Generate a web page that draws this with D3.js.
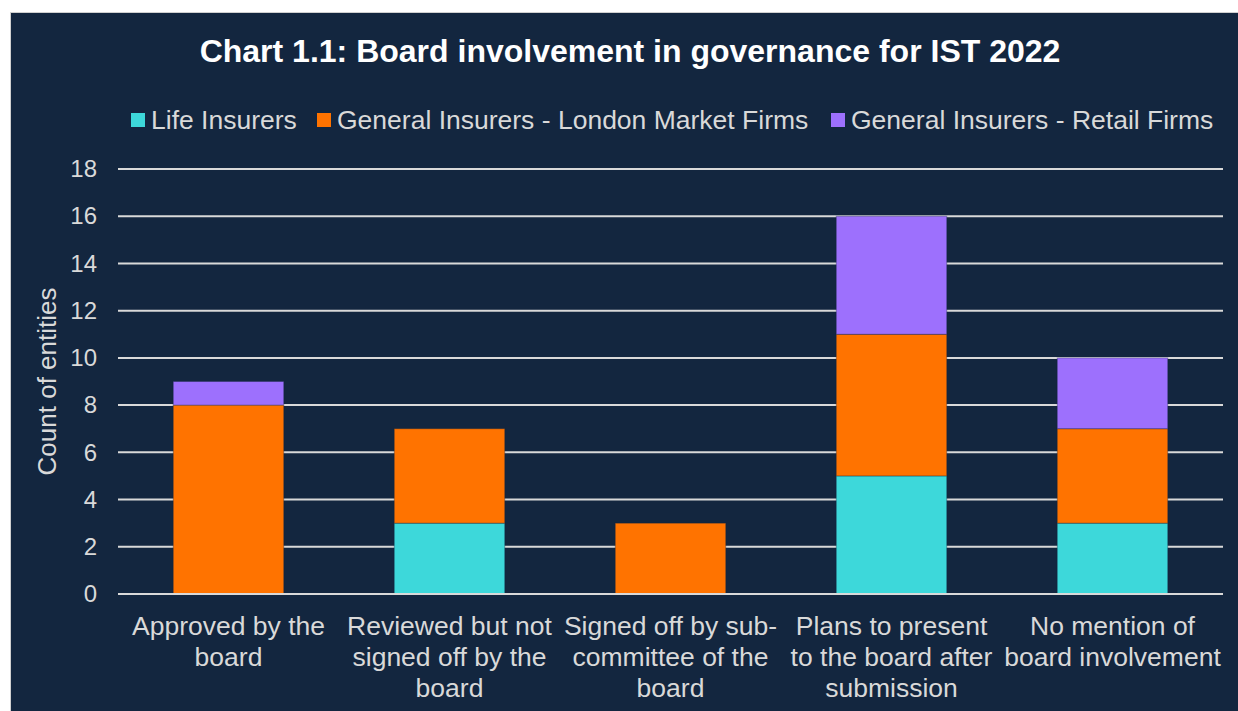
<!DOCTYPE html>
<html>
<head>
<meta charset="utf-8">
<script src="https://cdn.jsdelivr.net/npm/d3@7"></script>
<style>
  body { margin: 0; background: #fff; }
  svg { display: block; font-family: "Liberation Sans", Arial, sans-serif; }
</style>
</head>
<body>
<div id="chart"></div>
<script>
var svgWidth = 1238;
var svgHeight = 711;

// data
var categories = [
    ["Approved by the", "board"],
    ["Reviewed but not", "signed off by the", "board"],
    ["Signed off by sub-", "committee of the", "board"],
    ["Plans to present", "to the board after", "submission"],
    ["No mention of", "board involvement"]
];
var seriesNames = ["Life Insurers", "General Insurers - London Market Firms", "General Insurers - Retail Firms"];
var lifeInsurers = [0, 3, 0, 5, 3];
var londonMarket = [8, 4, 3, 6, 4];
var retailFirms = [1, 0, 0, 5, 3];
var yTicks = [0, 2, 4, 6, 8, 10, 12, 14, 16, 18];

var colorList = ['#3dd8da', '#ff7300', '#9d70fd'];
var bg = '#13263f';
var textColor = '#d9d9d9';

var margin = ({top: 169, right: 15, bottom: 117, left: 118});

var svg = d3.select("#chart")
    .append("svg")
    .attr("width", svgWidth)
    .attr("height", svgHeight);

// panel background with border
svg.append('rect')
    .attr('x', 10.5)
    .attr('y', 12.5)
    .attr('width', svgWidth)
    .attr('height', svgHeight)
    .attr('fill', bg)
    .attr('stroke', '#d0d0d0')
    .attr('stroke-width', 1);

var tableData = categories.map(function(c, i) {
    return {cat: i, life: lifeInsurers[i], london: londonMarket[i], retail: retailFirms[i]};
});
var series = d3.stack().keys(['life', 'london', 'retail'])(tableData);

var xScale = d3.scaleBand()
    .domain(categories.map((d, i) => i))
    .range([margin.left, svgWidth - margin.right])
    .paddingInner(0.5)
    .paddingOuter(0.25);

var yScale = d3.scaleLinear()
    .domain([0, 18])
    .range([svgHeight - margin.bottom, margin.top]);

// gridlines
svg.append('g')
    .selectAll('line')
    .data(yTicks)
    .enter()
    .append('line')
    .attr('x1', margin.left)
    .attr('x2', svgWidth - margin.right)
    .attr('y1', d => yScale(d))
    .attr('y2', d => yScale(d))
    .attr('stroke', textColor)
    .attr('stroke-width', 2);

// y axis (labels only)
const yAxis = svg.append("g")
    .attr("transform", "translate(" + margin.left + ",0)")
    .call(d3.axisLeft(yScale).tickValues(yTicks).tickSize(0).tickPadding(21));
yAxis.select('.domain').remove();
yAxis.selectAll('text')
    .attr('fill', textColor)
    .attr('font-size', 24)
    .attr('font-family', '"Liberation Sans", Arial, sans-serif');

// bars
var groups = svg.selectAll(".series").data(series).enter()
    .append("g")
    .classed('series', true)
    .attr("fill", (d, i) => colorList[i]);

groups.selectAll("rect")
    .data(d => d.filter(v => v[1] > v[0]))
    .enter()
    .append("rect")
    .attr("x", d => xScale(d.data.cat))
    .attr("y", d => yScale(d[1]))
    .attr("height", d => yScale(d[0]) - yScale(d[1]))
    .attr("width", xScale.bandwidth())
    .attr('stroke', 'rgba(19,38,63,0.35)')
    .attr('stroke-width', 1);

// baseline on top of bars
svg.append('line')
    .attr('x1', margin.left)
    .attr('x2', svgWidth - margin.right)
    .attr('y1', yScale(0))
    .attr('y2', yScale(0))
    .attr('stroke', textColor)
    .attr('stroke-width', 2);

// category labels
var catLabels = svg.append('g')
    .selectAll('text')
    .data(categories)
    .enter()
    .append('text')
    .attr('x', (d, i) => xScale(i) + xScale.bandwidth() / 2)
    .attr('y', yScale(0) + 41)
    .attr('text-anchor', 'middle')
    .attr('fill', textColor)
    .attr('font-size', 26.5);

catLabels.selectAll('tspan')
    .data(d => d)
    .enter()
    .append('tspan')
    .attr('x', function() { return d3.select(this.parentNode).attr('x'); })
    .attr('dy', (d, i) => i === 0 ? 0 : 31)
    .text(d => d);

// y axis title
svg.append('text')
    .attr('transform', 'translate(56,' + ((yScale(0) + yScale(18)) / 2) + ') rotate(-90)')
    .attr('text-anchor', 'middle')
    .attr('fill', textColor)
    .attr('font-size', 26)
    .text('Count of entities');

// title
svg.append('text')
    .attr('x', 630)
    .attr('y', 62)
    .attr('text-anchor', 'middle')
    .attr('fill', '#ffffff')
    .attr('font-weight', 'bold')
    .attr('font-size', 32)
    .text('Chart 1.1: Board involvement in governance for IST 2022');

// legend
var legendX = [131, 317, 831];
var legend = svg.append('g');
legend.selectAll('rect')
    .data(seriesNames)
    .enter()
    .append('rect')
    .attr('x', (d, i) => legendX[i])
    .attr('y', 113)
    .attr('width', 14)
    .attr('height', 14)
    .attr('fill', (d, i) => colorList[i]);

legend.selectAll('text')
    .data(seriesNames)
    .enter()
    .append('text')
    .attr('x', (d, i) => legendX[i] + 20)
    .attr('y', 129)
    .attr('fill', textColor)
    .attr('font-size', 26.5)
    .text(d => d);
</script>
</body>
</html>
